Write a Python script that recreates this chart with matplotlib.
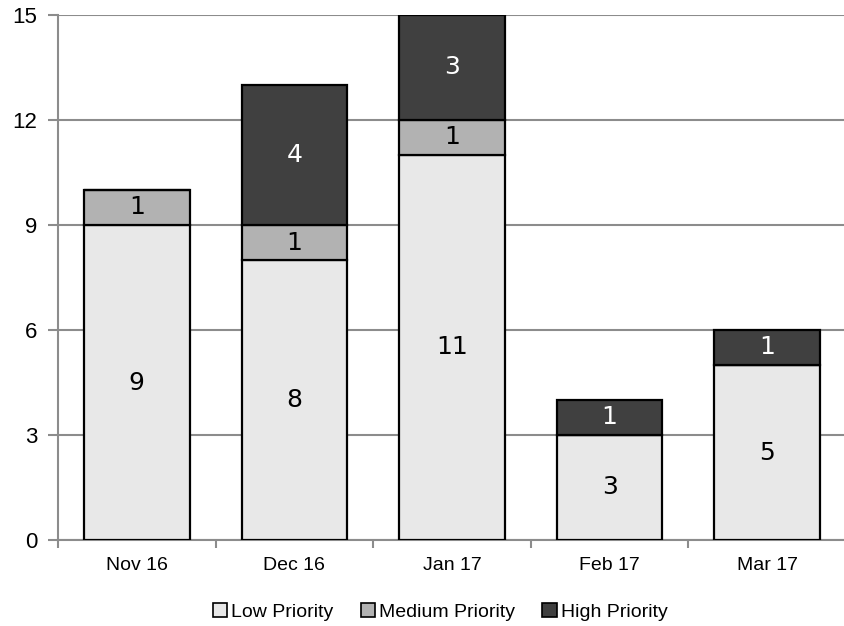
import matplotlib
matplotlib.use("Agg")
import matplotlib.pyplot as plt
import numpy as np
from matplotlib.patches import Patch

months = ["Nov 16", "Dec 16", "Jan 17", "Feb 17", "Mar 17"]
low = [9, 8, 11, 3, 5]
medium = [1, 1, 1, 0, 0]
high = [0, 4, 3, 1, 1]
series_names = ["Low Priority", "Medium Priority", "High Priority"]
colors = ["#e8e8e8", "#b2b2b2", "#404040"]
label_colors = ["black", "black", "white"]
yticks = [0, 3, 6, 9, 12, 15]

plt.rcParams["font.family"] = ["Liberation Sans", "DejaVu Sans"]

fig = plt.figure(figsize=(8.44, 6.26), dpi=100)
ax = fig.add_axes([58 / 844, 1 - 540 / 626, 788 / 844, 525 / 626])

x = np.arange(len(months))
bottom = np.zeros(len(months))
for vals, col, lc in zip([low, medium, high], colors, label_colors):
    vals = np.array(vals, dtype=float)
    ax.bar(x, vals, width=0.67, bottom=bottom, color=col,
           edgecolor="black", linewidth=1.6, zorder=3)
    for xi, v, b in zip(x, vals, bottom):
        if v > 0:
            ax.text(xi, b + v / 2, f"{int(v)}", ha="center", va="center",
                    fontsize=18, color=lc, family="DejaVu Sans", zorder=4)
    bottom += vals

ax.set_xlim(-0.5, len(months) - 0.5)
ax.set_ylim(0, 15)
ax.set_yticks(yticks)
ax.set_yticklabels([str(t) for t in yticks], fontsize=16)
ax.yaxis.grid(True, color="#8c8c8c", linewidth=1.5, zorder=0)
ax.tick_params(axis="y", length=7, width=1.5, color="#8c8c8c", pad=8)

ax.set_xticks(x)
ax.set_xticklabels(months, fontsize=14)
ax.set_xticks(np.arange(len(months) + 1) - 0.5, minor=True)
ax.tick_params(axis="x", which="major", length=0, pad=12)
ax.tick_params(axis="x", which="minor", length=6, width=1.5, color="#8c8c8c")

for side in ["top", "right"]:
    ax.spines[side].set_visible(False)
for side in ["left", "bottom"]:
    ax.spines[side].set_color("#8c8c8c")
    ax.spines[side].set_linewidth(1.5)

handles = [Patch(facecolor=c, edgecolor="black", linewidth=1.2) for c in colors]
fig.legend(handles, series_names, loc="center", bbox_to_anchor=(440 / 844, 1 - 612 / 626),
           ncol=3, frameon=False, fontsize=14, handlelength=0.75, handleheight=0.75,
           handletextpad=0.2, columnspacing=1.4)

fig.savefig("out.png", dpi=100)
